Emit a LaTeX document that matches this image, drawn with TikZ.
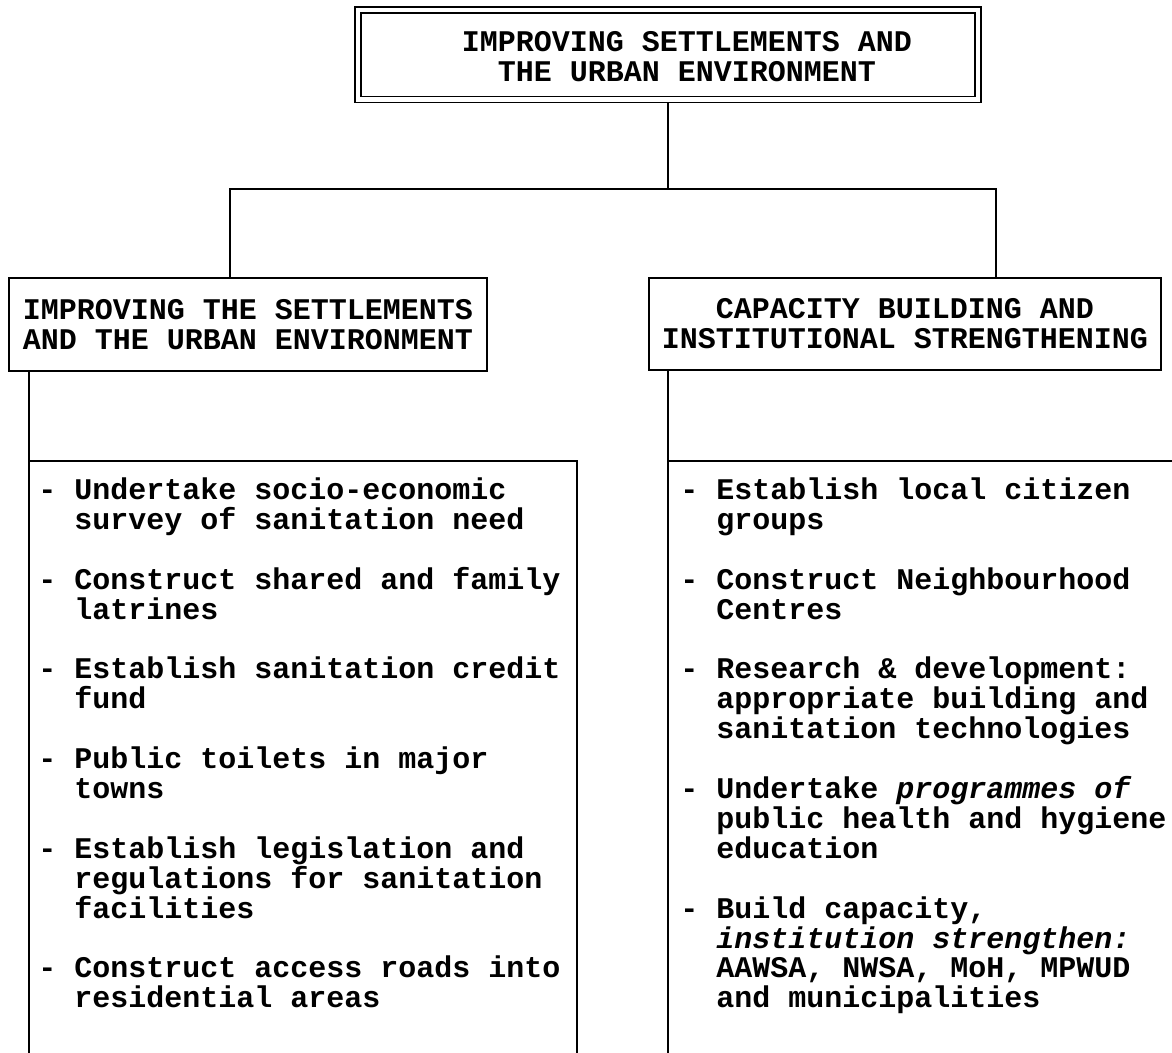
\documentclass[tikz,border=0pt]{standalone}
\usepackage{fontspec}
\newfontfamily\cour{Liberation Mono}
\newcommand\txtline[1]{\hbox{#1}}
\newcommand\ind{\kern1.2em}
\begin{document}
\begin{tikzpicture}[x=0.5pt,y=-0.5pt,
  conn/.style={line width=0.9pt},
  ttfont/.style={font={\cour\bfseries\fontsize{15pt}{15pt}\selectfont}},
  topbox/.style={draw, double=white, line width=0.9pt, double distance=2.1pt,
                 inner sep=0pt, outer sep=1.95pt, minimum width=310pt, minimum height=44.75pt},
  midbox/.style={draw, line width=0.9pt, inner sep=0pt, align=center, ttfont},
  title/.style={inner sep=0pt, align=center, ttfont},
  listtext/.style={inner sep=0pt, anchor=base west, ttfont}]
\useasboundingbox (0,0) rectangle (1172,1053);
\fill[white] (0,0) rectangle (1172,1053);

% top box
\node[topbox] (top) at (668,54.75) {};
\node[title] (toptext) at (687,57) {IMPROVING SETTLEMENTS AND\\THE URBAN ENVIRONMENT};

% middle boxes
\node[midbox, minimum width=239pt, minimum height=46.5pt] (midL) at (248,324.5)
  {IMPROVING THE SETTLEMENTS\\AND THE URBAN ENVIRONMENT};
\node[midbox, minimum width=256pt, minimum height=46pt] (midR) at (905,324)
  {CAPACITY BUILDING AND\\INSTITUTIONAL STRENGTHENING};

% connectors
\coordinate (jC) at (668,189);
\coordinate (jL) at (230,189);
\coordinate (jR) at (996,189);
\draw[conn] (top.south) -- (jC);
\draw[conn] (jL |- midL.north) -- (jL) -- (jR) -- (jR |- midR.north);

% bottom open frames
\coordinate (bLtl) at (29,461);
\coordinate (bLtr) at (577,461);
\coordinate (bLbl) at (29,1053);
\coordinate (bLbr) at (577,1053);
\coordinate (bRtl) at (668,461);
\coordinate (bRtr) at (1172,461);
\coordinate (bRbl) at (668,1053);
\draw[conn] (bLtl |- midL.south) -- (bLtl);
\draw[conn] (bRtl |- midR.south) -- (bRtl);
\draw[conn] (bLbl) -- (bLtl) -- (bLtr) -- (bLbr);
\draw[conn] (bRbl) -- (bRtl) -- (bRtr);

% lists
\node[listtext] (listL) at (38,499.5) {\vtop{\baselineskip=14.95pt \lineskiplimit=-20pt
\txtline{- Undertake socio-economic}
\txtline{\ind survey of sanitation need}
\txtline{}
\txtline{- Construct shared and family}
\txtline{\ind latrines}
\txtline{}
\txtline{- Establish sanitation credit}
\txtline{\ind fund}
\txtline{}
\txtline{- Public toilets in major}
\txtline{\ind towns}
\txtline{}
\txtline{- Establish legislation and}
\txtline{\ind regulations for sanitation}
\txtline{\ind facilities}
\txtline{}
\txtline{- Construct access roads into}
\txtline{\ind residential areas}}};

\node[listtext] (listR) at (680,499.5) {\vtop{\baselineskip=14.95pt \lineskiplimit=-20pt
\txtline{- Establish local citizen}
\txtline{\ind groups}
\txtline{}
\txtline{- Construct Neighbourhood}
\txtline{\ind Centres}
\txtline{}
\txtline{- Research \& development:}
\txtline{\ind appropriate building and}
\txtline{\ind sanitation technologies}
\txtline{}
\txtline{- Undertake \textit{programmes of}}
\txtline{\ind public health and hygiene}
\txtline{\ind education}
\txtline{}
\txtline{- Build capacity,}
\txtline{\ind \textit{institution strengthen:}}
\txtline{\ind AAWSA, NWSA, MoH, MPWUD}
\txtline{\ind and municipalities}}};
\end{tikzpicture}
\end{document}
